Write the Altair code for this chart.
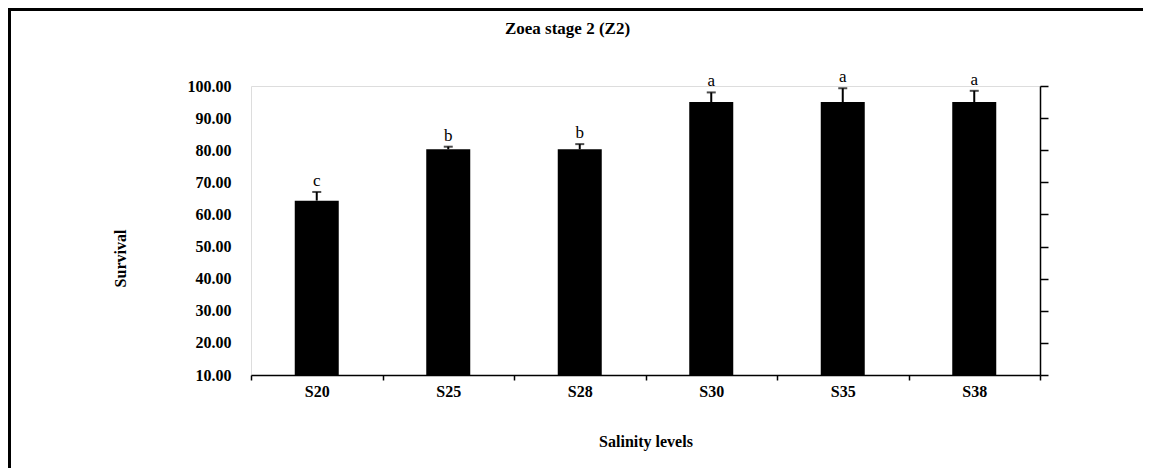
import altair as alt
import pandas as pd

categories = ["S20", "S25", "S28", "S30", "S35", "S38"]
survival = [64.3, 80.3, 80.3, 95.0, 95.0, 95.0]
errors = [2.7, 0.8, 1.6, 3.0, 4.3, 3.5]
letters = ["c", "b", "b", "a", "a", "a"]
y_ticks = [10, 20, 30, 40, 50, 60, 70, 80, 90, 100]

df = pd.DataFrame({"level": categories, "survival": survival, "err": errors, "letter": letters})
df["upper"] = df["survival"] + df["err"]

FONT = "Liberation Serif"
W, H = 789, 289
PL, PT, PR, PB = 243, 78, 105, 93

yscale = alt.Scale(domain=[10, 100], nice=False, zero=False)
xscale = alt.Scale(paddingInner=0, paddingOuter=0)

x_axis = alt.Axis(
    title="Salinity levels", labelAngle=0, tickBand="extent", ticks=True, tickSize=5,
    tickColor="black", tickWidth=1.5, domainColor="black", domainWidth=1.5,
    labelFont=FONT, labelFontSize=16, labelFontWeight="bold", labelColor="black", labelPadding=3,
    titleFont=FONT, titleFontSize=16, titleFontWeight="bold", titleColor="black",
    titleY=66, titleBaseline="middle",
)
x_enc = alt.X("level:N", sort=categories, scale=xscale, axis=x_axis)

left_axis = alt.Axis(
    title="Survival", format=".2f", values=y_ticks, domain=False, ticks=False, grid=False,
    labelPadding=20, labelFont=FONT, labelFontSize=16, labelFontWeight="bold", labelColor="black",
    titleFont=FONT, titleFontSize=16, titleFontWeight="bold", titleColor="black",
    titleX=-131, titleY=172, titleAlign="center", titleBaseline="middle",
)
right_axis = alt.Axis(
    orient="right", title=None, labels=False, values=y_ticks, domain=True, domainColor="black",
    domainWidth=1.5, ticks=True, tickSize=8, tickColor="black", tickWidth=1.5, grid=False,
)

base = alt.Chart(df)
one = alt.Chart(pd.DataFrame({"f": [0]}))

frame_top = one.mark_rule(color="black", strokeWidth=3).encode(
    x=alt.value(-PL), x2=alt.value(W + PR - 2), y=alt.value(-PT + 1.5)
)
frame_left = one.mark_rule(color="black", strokeWidth=3).encode(
    x=alt.value(-PL + 1.5), y=alt.value(-PT), y2=alt.value(H + PB)
)

bars = base.mark_bar(color="black", size=44).encode(
    x=x_enc,
    y=alt.Y("survival:Q", scale=yscale, axis=left_axis),
    y2=alt.datum(10),
)

rules = base.mark_rule(color="black", strokeWidth=2).encode(
    x=alt.X("level:N", sort=categories),
    y=alt.Y("survival:Q", scale=yscale, axis=right_axis),
    y2="upper:Q",
)

caps = base.mark_tick(color="black", thickness=2, size=9).encode(
    x=alt.X("level:N", sort=categories),
    y=alt.Y("upper:Q", axis=None),
)

labels = base.mark_text(font=FONT, fontSize=17, baseline="alphabetic", dy=-6, color="black").encode(
    x=alt.X("level:N", sort=categories),
    y=alt.Y("upper:Q", axis=None),
    text="letter:N",
)

chart = alt.layer(frame_top, frame_left, bars, rules, caps, labels).resolve_axis(
    y="independent"
).properties(
    width=W, height=H,
    title=alt.TitleParams("Zoea stage 2 (Z2)", font=FONT, fontSize=17, fontWeight="bold",
                          anchor="middle", frame="group", dx=-78, offset=-39,
                          baseline="middle", color="black"),
    autosize=alt.AutoSizeParams(type="none"),
    padding={"left": PL, "top": PT, "right": PR, "bottom": PB},
).configure_view(stroke=None).configure(background="white")

chart.save("out.html", embed_options={"renderer": "svg", "actions": False})
